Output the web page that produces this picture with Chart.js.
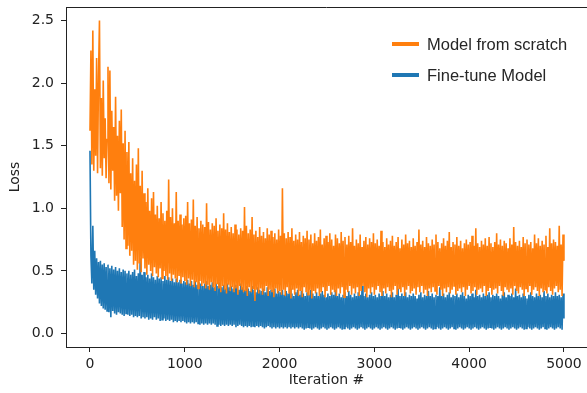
<!DOCTYPE html>
<html>
<head>
<meta charset="utf-8">
<script src="https://cdn.jsdelivr.net/npm/chart.js@4.4.1/dist/chart.umd.min.js"></script>
<style>
  html, body { margin: 0; padding: 0; background: #fff; }
  #wrap { width: 587px; height: 393px; }
</style>
</head>
<body>
<div id="wrap"><canvas id="lossChart" width="587" height="393"></canvas></div>
<script>
const STEP = 10;
const xTicks = [0, 1000, 2000, 3000, 4000, 5000];
const yTicks = [0.0, 0.5, 1.0, 1.5, 2.0, 2.5];

const scratchLoss = [
  1.62, 2.26, 1.35, 2.42, 1.30, 1.95, 1.42, 2.20, 1.28, 2.05,
  2.50, 1.32, 1.88, 1.26, 2.02, 1.40, 1.72, 1.24, 1.55, 2.13,
  1.20, 2.10, 1.15, 1.78, 1.30, 1.65, 1.06, 1.89, 1.10, 1.58,
  0.98, 1.70, 1.12, 1.79, 0.85, 1.52, 0.75, 1.62, 0.68, 1.45,
  0.70, 1.53, 0.62, 1.28, 0.66, 1.40, 0.55, 1.22, 0.58, 1.35,
  0.51, 1.48, 0.56, 1.18, 0.49, 1.30, 0.60, 1.12, 0.52, 1.05,
  0.47, 1.16, 0.55, 0.98, 0.50, 1.08, 0.46, 1.13, 0.53, 0.95,
  0.48, 1.02, 0.45, 0.92, 0.52, 1.05, 0.44, 0.96, 0.50, 0.90,
  0.46, 0.98, 0.43, 1.23, 0.48, 0.93, 0.42, 1.00, 0.47, 0.88,
  0.44, 1.13, 0.41, 0.90, 0.46, 0.95, 0.40, 0.87, 0.45, 0.92,
  0.42, 0.94, 0.39, 1.05, 0.44, 0.88, 0.38, 0.91, 0.43, 1.07,
  0.37, 0.86, 0.41, 0.93, 0.36, 0.84, 0.42, 0.90, 0.38, 0.87,
  0.40, 0.85, 0.36, 1.04, 0.39, 0.89, 0.35, 0.83, 0.41, 0.88,
  0.37, 0.86, 0.34, 0.92, 0.40, 0.82, 0.36, 0.87, 0.33, 0.84,
  0.38, 0.96, 0.35, 0.83, 0.32, 0.88, 0.39, 0.81, 0.34, 0.85,
  0.37, 0.80, 0.33, 0.87, 0.36, 0.83, 0.31, 0.79, 0.38, 0.84,
  0.35, 0.82, 0.33, 1.01, 0.34, 0.86, 0.30, 0.80, 0.37, 0.83,
  0.33, 0.93, 0.36, 0.79, 0.26, 0.82, 0.35, 0.77, 0.32, 0.85,
  0.36, 0.78, 0.31, 0.81, 0.34, 0.76, 0.38, 0.84, 0.30, 0.79,
  0.35, 0.82, 0.33, 0.77, 0.29, 0.80, 0.36, 0.75, 0.32, 0.83,
  0.34, 0.78, 0.31, 1.16, 0.35, 0.80, 0.30, 0.76, 0.37, 0.81,
  0.32, 0.77, 0.28, 0.84, 0.35, 0.74, 0.31, 0.79, 0.36, 0.75,
  0.30, 0.81, 0.34, 0.73, 0.29, 0.78, 0.37, 0.76, 0.33, 0.82,
  0.31, 0.75, 0.35, 0.79, 0.28, 0.72, 0.34, 0.80, 0.32, 0.74,
  0.36, 0.77, 0.30, 0.83, 0.33, 0.71, 0.37, 0.76, 0.29, 0.78,
  0.34, 0.73, 0.38, 0.80, 0.31, 0.75, 0.35, 0.70, 0.33, 0.79,
  0.30, 0.76, 0.36, 0.72, 0.32, 0.81, 0.37, 0.74, 0.29, 0.77,
  0.35, 0.71, 0.33, 0.78, 0.38, 0.73, 0.31, 0.84, 0.36, 0.70,
  0.32, 0.75, 0.37, 0.72, 0.30, 0.79, 0.34, 0.69, 0.38, 0.74,
  0.33, 0.77, 0.29, 0.71, 0.36, 0.76, 0.32, 0.73, 0.37, 0.80,
  0.31, 0.72, 0.35, 0.75, 0.38, 0.70, 0.33, 0.82, 0.30, 0.73,
  0.36, 0.69, 0.32, 0.76, 0.37, 0.71, 0.34, 0.74, 0.29, 0.78,
  0.35, 0.70, 0.38, 0.73, 0.31, 0.77, 0.36, 0.68, 0.33, 0.75,
  0.37, 0.71, 0.30, 0.79, 0.35, 0.72, 0.38, 0.74, 0.32, 0.69,
  0.34, 0.76, 0.36, 0.70, 0.31, 0.73, 0.37, 0.83, 0.33, 0.71,
  0.38, 0.74, 0.32, 0.69, 0.35, 0.77, 0.30, 0.72, 0.36, 0.70,
  0.33, 0.75, 0.37, 0.71, 0.34, 0.79, 0.31, 0.73, 0.38, 0.68,
  0.35, 0.72, 0.30, 0.76, 0.36, 0.70, 0.33, 0.74, 0.37, 0.81,
  0.32, 0.69, 0.35, 0.73, 0.38, 0.71, 0.31, 0.77, 0.34, 0.70,
  0.36, 0.74, 0.33, 0.68, 0.37, 0.72, 0.30, 0.75, 0.35, 0.71,
  0.38, 0.73, 0.32, 0.78, 0.34, 0.70, 0.37, 0.84, 0.31, 0.72,
  0.35, 0.69, 0.36, 0.74, 0.33, 0.71, 0.38, 0.76, 0.30, 0.70,
  0.34, 0.77, 0.37, 0.72, 0.31, 0.69, 0.35, 0.73, 0.36, 0.80,
  0.32, 0.71, 0.38, 0.75, 0.34, 0.70, 0.30, 0.74, 0.37, 0.72,
  0.35, 0.68, 0.33, 0.76, 0.36, 0.71, 0.31, 0.85, 0.38, 0.73,
  0.34, 0.70, 0.32, 0.74, 0.37, 0.69, 0.35, 0.77, 0.30, 0.72,
  0.36, 0.75, 0.33, 0.71, 0.38, 0.73, 0.31, 0.68, 0.35, 0.79,
  0.37, 0.72, 0.34, 0.76, 0.30, 0.70, 0.36, 0.74, 0.33, 0.71,
  0.35, 0.78, 0.32, 0.69, 0.37, 0.84, 0.34, 0.72, 0.31, 0.75,
  0.36, 0.73, 0.38, 0.70, 0.33, 0.86, 0.35, 0.71, 0.30, 0.79,
  0.58
];

const finetuneLoss = [
  1.46, 0.62, 0.40, 0.86, 0.35, 0.66, 0.31, 0.60, 0.28, 0.57,
  0.24, 0.58, 0.22, 0.55, 0.20, 0.56, 0.19, 0.53, 0.18, 0.55,
  0.17, 0.52, 0.13, 0.54, 0.18, 0.51, 0.16, 0.53, 0.15, 0.50,
  0.17, 0.52, 0.16, 0.49, 0.15, 0.51, 0.14, 0.50, 0.16, 0.48,
  0.15, 0.50, 0.14, 0.47, 0.15, 0.49, 0.13, 0.51, 0.14, 0.46,
  0.13, 0.48, 0.14, 0.60, 0.12, 0.47, 0.13, 0.49, 0.12, 0.45,
  0.13, 0.47, 0.11, 0.44, 0.12, 0.48, 0.11, 0.45, 0.13, 0.43,
  0.11, 0.46, 0.12, 0.44, 0.10, 0.45, 0.11, 0.42, 0.12, 0.46,
  0.10, 0.43, 0.11, 0.45, 0.10, 0.42, 0.11, 0.44, 0.09, 0.41,
  0.10, 0.44, 0.09, 0.41, 0.10, 0.43, 0.09, 0.40, 0.10, 0.42,
  0.09, 0.41, 0.08, 0.43, 0.09, 0.40, 0.08, 0.42, 0.09, 0.39,
  0.08, 0.42, 0.09, 0.39, 0.08, 0.41, 0.07, 0.40, 0.08, 0.38,
  0.07, 0.40, 0.08, 0.42, 0.07, 0.38, 0.08, 0.39, 0.07, 0.41,
  0.08, 0.37, 0.07, 0.40, 0.06, 0.38, 0.07, 0.41, 0.06, 0.37,
  0.07, 0.39, 0.06, 0.36, 0.07, 0.40, 0.06, 0.37, 0.07, 0.38,
  0.06, 0.36, 0.07, 0.39, 0.05, 0.37, 0.06, 0.35, 0.07, 0.40,
  0.06, 0.37, 0.05, 0.35, 0.06, 0.38, 0.05, 0.36, 0.06, 0.34,
  0.05, 0.38, 0.06, 0.35, 0.05, 0.33, 0.06, 0.37, 0.05, 0.35,
  0.06, 0.34, 0.05, 0.36, 0.04, 0.33, 0.05, 0.37, 0.06, 0.34,
  0.05, 0.35, 0.04, 0.33, 0.05, 0.36, 0.04, 0.32, 0.05, 0.34,
  0.04, 0.33, 0.05, 0.35, 0.04, 0.31, 0.05, 0.34, 0.04, 0.32,
  0.05, 0.36, 0.04, 0.32, 0.05, 0.30, 0.04, 0.33, 0.05, 0.35,
  0.04, 0.31, 0.05, 0.34, 0.04, 0.32, 0.03, 0.30, 0.04, 0.33,
  0.05, 0.31, 0.04, 0.35, 0.03, 0.32, 0.04, 0.30, 0.05, 0.33,
  0.04, 0.30, 0.03, 0.32, 0.04, 0.34, 0.05, 0.31, 0.04, 0.29,
  0.03, 0.32, 0.04, 0.30, 0.05, 0.33, 0.04, 0.31, 0.03, 0.35,
  0.04, 0.30, 0.05, 0.32, 0.04, 0.29, 0.03, 0.31, 0.04, 0.33,
  0.05, 0.30, 0.04, 0.34, 0.03, 0.31, 0.04, 0.29, 0.05, 0.32,
  0.04, 0.30, 0.03, 0.33, 0.04, 0.31, 0.05, 0.38, 0.04, 0.30,
  0.03, 0.32, 0.04, 0.29, 0.05, 0.31, 0.04, 0.33, 0.03, 0.30,
  0.04, 0.31, 0.05, 0.29, 0.04, 0.32, 0.03, 0.30, 0.04, 0.34,
  0.05, 0.30, 0.04, 0.32, 0.03, 0.29, 0.04, 0.31, 0.05, 0.33,
  0.04, 0.29, 0.03, 0.31, 0.04, 0.36, 0.05, 0.30, 0.04, 0.32,
  0.03, 0.30, 0.04, 0.33, 0.05, 0.29, 0.04, 0.31, 0.03, 0.30,
  0.04, 0.32, 0.05, 0.30, 0.04, 0.28, 0.03, 0.31, 0.04, 0.33,
  0.05, 0.29, 0.04, 0.31, 0.03, 0.30, 0.04, 0.34, 0.05, 0.30,
  0.04, 0.32, 0.03, 0.29, 0.04, 0.31, 0.05, 0.30, 0.04, 0.37,
  0.03, 0.30, 0.04, 0.32, 0.05, 0.29, 0.04, 0.31, 0.03, 0.33,
  0.04, 0.29, 0.05, 0.31, 0.04, 0.30, 0.03, 0.32, 0.04, 0.29,
  0.05, 0.31, 0.04, 0.33, 0.03, 0.30, 0.04, 0.28, 0.05, 0.31,
  0.04, 0.30, 0.03, 0.32, 0.04, 0.29, 0.05, 0.35, 0.04, 0.30,
  0.03, 0.31, 0.04, 0.29, 0.05, 0.32, 0.04, 0.30, 0.03, 0.31,
  0.04, 0.33, 0.05, 0.29, 0.04, 0.31, 0.03, 0.30, 0.04, 0.32,
  0.05, 0.30, 0.04, 0.28, 0.03, 0.31, 0.04, 0.33, 0.05, 0.29,
  0.04, 0.31, 0.03, 0.30, 0.04, 0.32, 0.05, 0.29, 0.04, 0.36,
  0.03, 0.30, 0.04, 0.31, 0.05, 0.29, 0.04, 0.32, 0.03, 0.30,
  0.04, 0.28, 0.05, 0.31, 0.04, 0.33, 0.03, 0.30, 0.04, 0.29,
  0.05, 0.32, 0.04, 0.30, 0.03, 0.31, 0.04, 0.29, 0.05, 0.34,
  0.04, 0.30, 0.03, 0.32, 0.04, 0.29, 0.05, 0.31, 0.04, 0.30,
  0.03, 0.33, 0.04, 0.30, 0.05, 0.31, 0.04, 0.29, 0.03, 0.32,
  0.12
];

const seriesNames = ['Model from scratch', 'Fine-tune Model'];
const seriesColors = ['#ff7f0e', '#1f77b4'];

const toPoints = arr => arr.map((v, i) => ({ x: i * STEP, y: v }));

// top spine (right one falls off the cropped picture) + in-axes legend
const framePlugin = {
    id: 'frame',
    afterDraw(chart) {
        const { ctx, chartArea: a } = chart;
        ctx.save();
        ctx.strokeStyle = '#222';
        ctx.lineWidth = 1;
        ctx.beginPath();
        ctx.moveTo(a.left, Math.round(a.top) + 0.5);
        ctx.lineTo(a.right, Math.round(a.top) + 0.5);
        ctx.stroke();

        ctx.font = '16.5px "Liberation Sans", Arial, sans-serif';
        ctx.textBaseline = 'middle';
        seriesNames.forEach((name, i) => {
            const y = 44 + i * 31;
            ctx.strokeStyle = seriesColors[i];
            ctx.lineWidth = 4;
            ctx.beginPath();
            ctx.moveTo(392, y);
            ctx.lineTo(419, y);
            ctx.stroke();
            ctx.fillStyle = '#262626';
            ctx.fillText(name, 427, y + 1);
        });
        ctx.restore();
    }
};

const tickFont = { family: '"DejaVu Sans", sans-serif', size: 14 };

// fixed axis boxes so the plot area sits where the reference has it
const noAutoPad = s => {
    s.paddingTop = 0; s.paddingBottom = 0;
    s.paddingLeft = 0; s.paddingRight = 0;
};

new Chart(document.getElementById('lossChart'), {
    type: 'line',
    data: {
        datasets: [
            {
                label: seriesNames[0],
                data: toPoints(scratchLoss),
                borderColor: seriesColors[0],
                borderWidth: 1.6,
                pointRadius: 0,
                tension: 0
            },
            {
                label: seriesNames[1],
                data: toPoints(finetuneLoss),
                borderColor: seriesColors[1],
                borderWidth: 1.6,
                pointRadius: 0,
                tension: 0
            }
        ]
    },
    options: {
        responsive: false,
        animation: false,
        devicePixelRatio: 1,
        layout: { padding: { top: 7, right: 0, bottom: 0, left: 0 } },
        plugins: {
            legend: { display: false },
            tooltip: { enabled: false }
        },
        scales: {
            x: {
                type: 'linear',
                min: -253,
                max: 5243,
                afterBuildTicks: s => { s.ticks = xTicks.map(v => ({ value: v })); },
                afterFit: s => { s.height = 46; noAutoPad(s); },
                grid: { drawOnChartArea: false, tickLength: 5, tickColor: '#222' },
                border: { color: '#222' },
                ticks: { color: '#222', font: tickFont, padding: 4, maxRotation: 0,
                         callback: v => String(v) },
                title: { display: true, text: 'Iteration #', color: '#222', font: tickFont,
                         padding: { top: 0, bottom: 4 } }
            },
            y: {
                min: -0.108,
                max: 2.608,
                afterBuildTicks: s => { s.ticks = yTicks.map(v => ({ value: v })); },
                afterFit: s => { s.width = 66; noAutoPad(s); },
                grid: { drawOnChartArea: false, tickLength: 5, tickColor: '#222' },
                border: { color: '#222' },
                ticks: { color: '#222', font: tickFont, padding: 7,
                         callback: v => v.toFixed(1) },
                title: { display: true, text: 'Loss', color: '#222', font: tickFont,
                         padding: { top: 7, bottom: 0 } }
            }
        }
    },
    plugins: [framePlugin]
});
</script>
</body>
</html>
